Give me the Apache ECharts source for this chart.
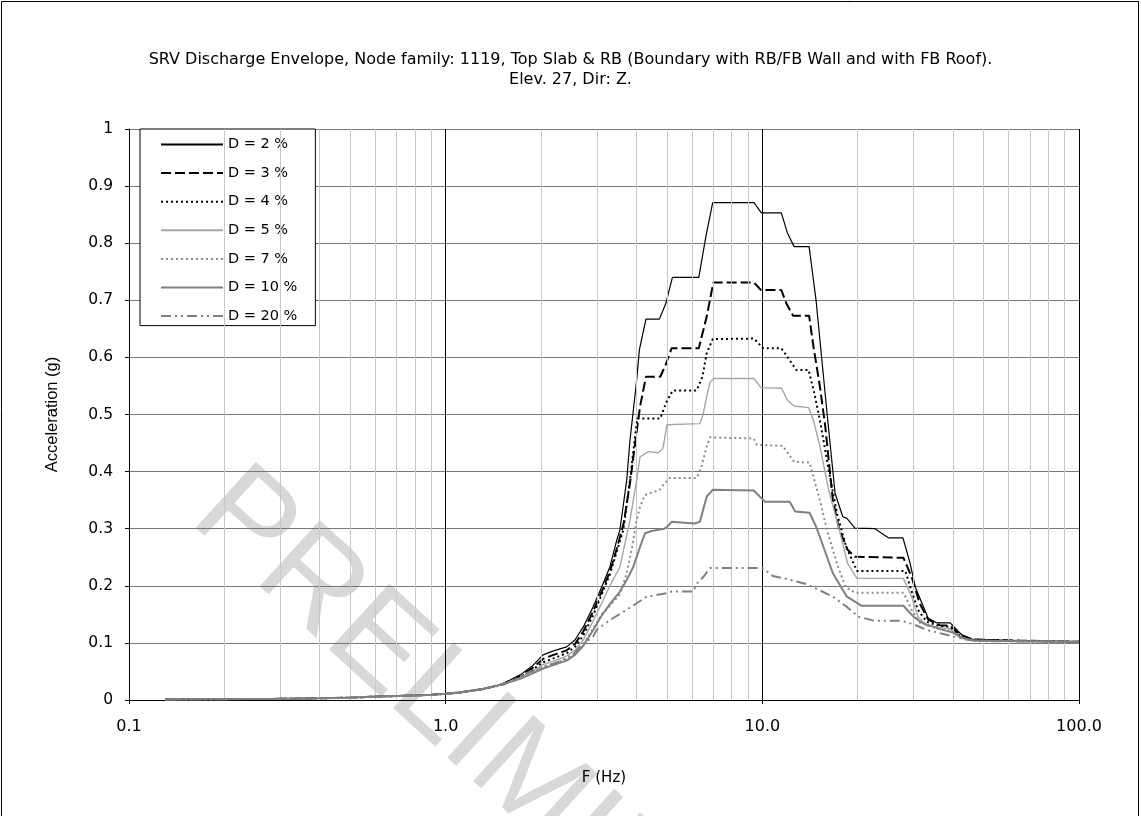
<!DOCTYPE html>
<html><head><meta charset="utf-8">
<script src="https://cdn.jsdelivr.net/npm/echarts@6/dist/echarts.min.js"></script>
<style>html,body{margin:0;padding:0;background:#fff}#c{width:1141px;height:816px}</style>
</head><body><div id="c"></div>
<script>
const titleLines = ['SRV Discharge Envelope, Node family: 1119, Top Slab & RB (Boundary with RB/FB Wall and with FB Roof).', 'Elev. 27, Dir: Z.'];
const seriesNames = ['D = 2 %', 'D = 3 %', 'D = 4 %', 'D = 5 %', 'D = 7 %', 'D = 10 %', 'D = 20 %'];
const xTickLabels = ['0.1', '1.0', '10.0', '100.0'];
const minorFreqs = [0.2,0.3,0.4,0.5,0.6,0.7,0.8,0.9,2,3,4,5,6,7,8,9,20,30,40,50,60,70,80,90];

// [frequency Hz, acceleration g]
const lowBand = [[0.13,0.001],[0.2,0.0015],[0.3,0.002],[0.4,0.003],[0.5,0.004],[0.6,0.006],[0.7,0.007],[0.8,0.008],[0.9,0.009],[1.0,0.011],[1.1,0.013],[1.2,0.016],[1.3,0.019],[1.4,0.023]];
const d2 = [[1.5,0.027],[1.72,0.044],[1.89,0.061],[2.03,0.079],[2.19,0.086],[2.41,0.093],[2.56,0.105],[2.72,0.128],[2.92,0.163],[3.11,0.198],[3.30,0.233],[3.47,0.280],[3.55,0.298],[3.73,0.385],[3.82,0.455],[4.01,0.560],[4.09,0.613],[4.29,0.667],[4.73,0.667],[4.96,0.695],[5.20,0.740],[6.30,0.740],[6.63,0.811],[6.97,0.871],[9.41,0.871],[9.93,0.853],[11.48,0.853],[12.0,0.818],[12.6,0.794],[14.05,0.794],[14.78,0.700],[16.05,0.496],[16.97,0.362],[17.95,0.321],[18.5,0.318],[19.6,0.301],[22.7,0.300],[23.8,0.292],[25.0,0.284],[27.8,0.284],[29.3,0.239],[30.4,0.198],[33.4,0.143],[35.6,0.135],[39.2,0.135],[41.6,0.120],[43.1,0.112],[46.4,0.106],[65,0.104],[100,0.102]];
const d3 = [[1.5,0.027],[1.72,0.042],[1.89,0.057],[2.03,0.072],[2.19,0.079],[2.41,0.087],[2.56,0.098],[2.72,0.120],[2.92,0.155],[3.11,0.190],[3.30,0.225],[3.47,0.265],[3.65,0.310],[3.82,0.380],[3.99,0.461],[4.11,0.514],[4.29,0.566],[4.76,0.566],[4.96,0.588],[5.17,0.616],[6.30,0.616],[6.67,0.671],[7.00,0.731],[9.41,0.731],[9.9,0.718],[11.48,0.718],[11.9,0.695],[12.5,0.673],[14.05,0.673],[14.5,0.619],[15.2,0.549],[15.8,0.479],[16.7,0.350],[17.5,0.298],[18.6,0.263],[19.6,0.251],[27.9,0.249],[29.6,0.216],[31.4,0.169],[33.4,0.141],[36.3,0.131],[39.2,0.130],[42,0.115],[46,0.106],[65,0.104],[100,0.102]];
const d4 = [[1.5,0.027],[1.72,0.040],[1.89,0.054],[2.03,0.066],[2.19,0.073],[2.41,0.082],[2.56,0.093],[2.72,0.113],[2.92,0.148],[3.11,0.185],[3.30,0.220],[3.47,0.260],[3.64,0.298],[3.82,0.385],[3.95,0.455],[4.03,0.493],[4.76,0.493],[4.98,0.522],[5.21,0.542],[6.2,0.542],[6.47,0.566],[6.67,0.607],[6.97,0.632],[9.41,0.633],[10.06,0.616],[11.48,0.616],[12.2,0.595],[12.8,0.578],[14.0,0.578],[14.3,0.557],[14.6,0.537],[15.2,0.490],[16.2,0.403],[17.2,0.327],[18.4,0.268],[19.9,0.226],[28.3,0.226],[29.5,0.193],[31.0,0.158],[33,0.137],[36,0.130],[39,0.128],[42,0.113],[46,0.105],[65,0.103],[100,0.102]];
const d5 = [[1.5,0.027],[1.72,0.039],[1.89,0.051],[2.03,0.062],[2.19,0.068],[2.41,0.077],[2.56,0.087],[2.72,0.105],[2.92,0.138],[3.11,0.170],[3.30,0.200],[3.55,0.233],[3.82,0.315],[4.01,0.385],[4.11,0.426],[4.36,0.435],[4.69,0.433],[4.85,0.440],[5.0,0.482],[6.35,0.484],[6.5,0.500],[6.67,0.531],[6.84,0.557],[7.04,0.563],[9.4,0.563],[9.9,0.547],[11.5,0.546],[12.0,0.525],[12.6,0.515],[14.0,0.512],[14.5,0.490],[15.2,0.444],[16.2,0.368],[17.5,0.298],[18.6,0.239],[19.9,0.213],[27.9,0.213],[29.6,0.181],[31,0.146],[33,0.130],[39,0.125],[42,0.110],[46,0.104],[65,0.103],[100,0.102]];
const d7 = [[1.5,0.027],[1.72,0.038],[1.89,0.049],[2.03,0.058],[2.19,0.064],[2.41,0.072],[2.56,0.082],[2.72,0.097],[2.92,0.125],[3.11,0.150],[3.30,0.165],[3.55,0.185],[3.73,0.222],[3.88,0.268],[4.01,0.315],[4.11,0.339],[4.26,0.359],[4.74,0.368],[4.9,0.379],[5.11,0.389],[6.21,0.389],[6.43,0.409],[6.67,0.444],[6.84,0.460],[9.4,0.458],[9.6,0.447],[11.6,0.445],[12.6,0.417],[14.1,0.416],[14.5,0.391],[15.2,0.350],[16.0,0.298],[17.2,0.239],[18.3,0.198],[19.6,0.188],[27.9,0.188],[29.6,0.158],[31.5,0.135],[36,0.125],[40,0.120],[43,0.108],[47,0.104],[65,0.103],[100,0.102]];
const d10 = [[1.5,0.027],[1.72,0.037],[1.89,0.047],[2.03,0.055],[2.19,0.061],[2.41,0.069],[2.56,0.079],[2.72,0.095],[2.92,0.122],[3.11,0.148],[3.30,0.168],[3.55,0.190],[3.73,0.210],[3.91,0.233],[4.11,0.268],[4.26,0.292],[4.47,0.296],[4.9,0.300],[5.0,0.303],[5.17,0.312],[6.1,0.309],[6.35,0.312],[6.67,0.356],[6.97,0.368],[9.4,0.367],[10.2,0.347],[12.2,0.347],[12.7,0.330],[14.1,0.328],[14.8,0.303],[15.6,0.268],[16.7,0.222],[18.5,0.181],[20.6,0.165],[27.9,0.165],[30,0.146],[32,0.135],[36,0.125],[40,0.118],[43,0.108],[47,0.104],[65,0.103],[100,0.102]];
const d20 = [[1.5,0.025],[1.8,0.047],[1.98,0.055],[2.3,0.068],[2.53,0.080],[2.65,0.093],[2.92,0.111],[3.0,0.123],[3.30,0.140],[3.73,0.158],[4.0,0.169],[4.31,0.181],[5.0,0.187],[5.17,0.190],[6.05,0.190],[6.21,0.204],[6.5,0.215],[6.84,0.231],[10.0,0.231],[10.8,0.217],[11.7,0.213],[13.8,0.203],[16.7,0.181],[18.5,0.163],[20.1,0.146],[22.5,0.139],[27.3,0.139],[29.9,0.133],[33,0.123],[40.2,0.111],[44,0.106],[48,0.103],[65,0.103],[100,0.102]];

const seriesData = [d2, d3, d4, d5, d7, d10, d20];
const seriesStyles = [
  {color:'#000000', width:1.2, type:'solid'},
  {color:'#000000', width:2, type:[10,4]},
  {color:'#000000', width:2, type:[2,3]},
  {color:'#a6a6a6', width:1.4, type:'solid'},
  {color:'#8c8c8c', width:2, type:[2,3]},
  {color:'#808080', width:2, type:'solid'},
  {color:'#808080', width:2, type:[10,4,2,4,2,4]}
];
const FONT_H = 'DejaVu Sans, Verdana, sans-serif';
const FONT_V = 'Liberation Sans, Arial, sans-serif';

const chart = echarts.init(document.getElementById('c'), null, {renderer:'canvas'});
const series = seriesNames.map((name, i) => ({
  name, type:'line', data: lowBand.concat(seriesData[i]), symbol:'none', showSymbol:false,
  z: 3 + i, lineStyle: {color: seriesStyles[i].color, width: seriesStyles[i].width, type: seriesStyles[i].type},
  itemStyle: {color: seriesStyles[i].color}, animation:false
}));
series.unshift({
  name:'minor', type:'line', data:[], z:1, silent:true, animation:false,
  markLine: {silent:true, symbol:'none', animation:false, label:{show:false},
    lineStyle:{color:'#c8c8c8', width:1, type:'solid'},
    data: minorFreqs.map(f => ({xAxis:f}))}
});

chart.setOption({
  animation:false,
  backgroundColor:'#ffffff',
  title: {text: titleLines.join('\n'), left:'center', top:45,
    textStyle:{fontFamily:FONT_H, fontSize:16, fontWeight:'normal', color:'#000', lineHeight:20}},
  graphic: [
    {type:'text', x:212, y:494, rotation:-0.74, z:-10, silent:true,
      style:{text:'PRELIMINARY', font:'normal 130px Liberation Sans, Arial', fill:'#d8d8d8', textAlign:'left', textVerticalAlign:'middle'}},
    {type:'rect', shape:{x:1.5, y:1.5, width:1137, height:830}, style:{fill:null, stroke:'#000', lineWidth:1}, silent:true}
  ],
  legend: {
    data: seriesNames, orient:'vertical', left:140, top:129,
    backgroundColor:'#ffffff', borderColor:'#000', borderWidth:1, borderRadius:0,
    padding:[8,18,2,20], itemWidth:62, itemHeight:14, itemGap:13.6,
    itemStyle:{opacity:0},
    textStyle:{fontFamily:FONT_H, fontSize:14.5, color:'#000'}, selectedMode:false
  },
  grid: {left:129, right:62, top:129, bottom:116, containLabel:false},
  xAxis: {
    type:'log', logBase:10, min:0.1, max:100,
    name:'F (Hz)', nameLocation:'middle', nameGap:71,
    nameTextStyle:{fontFamily:FONT_H, fontSize:15, color:'#000'},
    axisLine:{show:true, onZero:false, lineStyle:{color:'#000', width:1}},
    axisTick:{show:true, length:4, lineStyle:{color:'#000'}},
    axisLabel:{fontFamily:FONT_H, fontSize:16, color:'#000', margin:19,
      formatter: v => xTickLabels[Math.round(Math.log10(v)) + 1]},
    splitLine:{show:true, lineStyle:{color:'#000', width:1}},
    minorTick:{show:false}, minorSplitLine:{show:false}
  },
  yAxis: {
    type:'value', min:0, max:1, interval:0.1,
    name:'Acceleration (g)', nameLocation:'middle', nameGap:68, nameRotate:90,
    nameTextStyle:{fontFamily:FONT_V, fontSize:16.5, color:'#000'},
    axisLine:{show:true, lineStyle:{color:'#000', width:1}},
    axisTick:{show:true, length:4, lineStyle:{color:'#000'}},
    axisLabel:{fontFamily:FONT_H, fontSize:15.5, color:'#000', margin:16},
    splitLine:{show:true, lineStyle:{color:'#777777', width:1}}
  },
  series
});
</script></body></html>
